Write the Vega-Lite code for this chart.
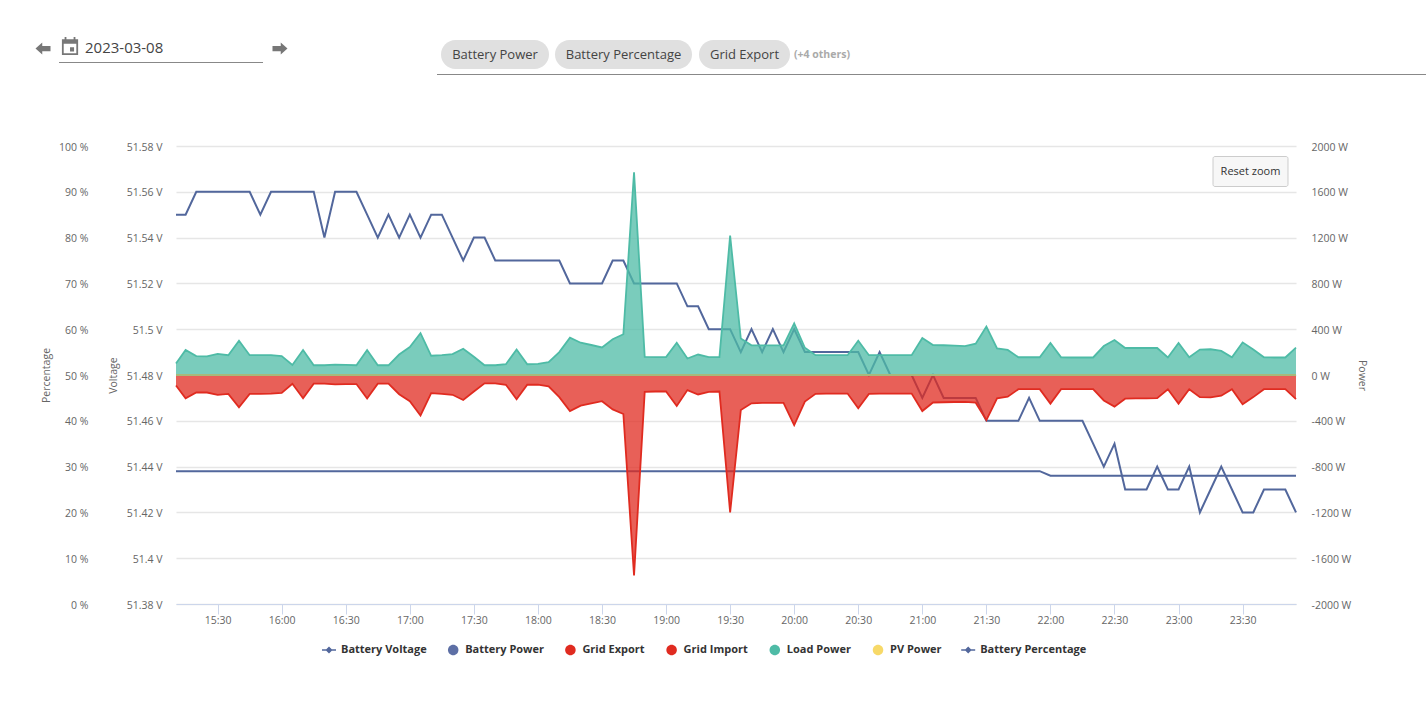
{
  "$schema": "https://vega.github.io/schema/vega-lite/v6.json",
  "autosize": "none",
  "padding": {"left": 176, "top": 146, "right": 130, "bottom": 99},
  "width": 1120,
  "height": 458,
  "background": "white",
  "config": {
    "view": {"stroke": null},
    "font": "Open Sans",
    "axis": {"labelFont": "Open Sans", "titleFont": "Open Sans", "labelFontSize": 10.5, "titleFontSize": 10.5, "labelColor": "#666666", "titleColor": "#666666", "titleFontWeight": "normal"}
  },
  "data": {"values": [
    {"t":"2023-03-08T15:10:30","pct":85,"volt":51.438,"load":100,"imp":-91,"exp":0,"pv":0,"bat":0},
    {"t":"2023-03-08T15:15:00","pct":85,"volt":51.438,"load":218,"imp":-203,"exp":0,"pv":0,"bat":0},
    {"t":"2023-03-08T15:20:00","pct":90,"volt":51.438,"load":165,"imp":-153,"exp":0,"pv":0,"bat":0},
    {"t":"2023-03-08T15:25:00","pct":90,"volt":51.438,"load":162,"imp":-153,"exp":0,"pv":0,"bat":0},
    {"t":"2023-03-08T15:30:00","pct":90,"volt":51.438,"load":185,"imp":-173,"exp":0,"pv":0,"bat":0},
    {"t":"2023-03-08T15:35:00","pct":90,"volt":51.438,"load":173,"imp":-165,"exp":0,"pv":0,"bat":0},
    {"t":"2023-03-08T15:40:00","pct":90,"volt":51.438,"load":300,"imp":-282,"exp":0,"pv":0,"bat":0},
    {"t":"2023-03-08T15:45:00","pct":90,"volt":51.438,"load":173,"imp":-165,"exp":0,"pv":0,"bat":0},
    {"t":"2023-03-08T15:50:00","pct":85,"volt":51.438,"load":173,"imp":-165,"exp":0,"pv":0,"bat":0},
    {"t":"2023-03-08T15:55:00","pct":90,"volt":51.438,"load":173,"imp":-162,"exp":0,"pv":0,"bat":0},
    {"t":"2023-03-08T16:00:00","pct":90,"volt":51.438,"load":165,"imp":-156,"exp":0,"pv":0,"bat":0},
    {"t":"2023-03-08T16:05:00","pct":90,"volt":51.438,"load":88,"imp":-76,"exp":0,"pv":0,"bat":0},
    {"t":"2023-03-08T16:10:00","pct":90,"volt":51.438,"load":218,"imp":-203,"exp":0,"pv":0,"bat":0},
    {"t":"2023-03-08T16:15:00","pct":90,"volt":51.438,"load":85,"imp":-76,"exp":0,"pv":0,"bat":0},
    {"t":"2023-03-08T16:20:00","pct":80,"volt":51.438,"load":85,"imp":-76,"exp":0,"pv":0,"bat":0},
    {"t":"2023-03-08T16:25:00","pct":90,"volt":51.438,"load":91,"imp":-82,"exp":0,"pv":0,"bat":0},
    {"t":"2023-03-08T16:30:00","pct":90,"volt":51.438,"load":88,"imp":-79,"exp":0,"pv":0,"bat":0},
    {"t":"2023-03-08T16:35:00","pct":90,"volt":51.438,"load":85,"imp":-79,"exp":0,"pv":0,"bat":0},
    {"t":"2023-03-08T16:40:00","pct":85,"volt":51.438,"load":218,"imp":-206,"exp":0,"pv":0,"bat":0},
    {"t":"2023-03-08T16:45:00","pct":80,"volt":51.438,"load":85,"imp":-76,"exp":0,"pv":0,"bat":0},
    {"t":"2023-03-08T16:50:00","pct":85,"volt":51.438,"load":85,"imp":-76,"exp":0,"pv":0,"bat":0},
    {"t":"2023-03-08T16:55:00","pct":80,"volt":51.438,"load":179,"imp":-168,"exp":0,"pv":0,"bat":0},
    {"t":"2023-03-08T17:00:00","pct":85,"volt":51.438,"load":244,"imp":-229,"exp":0,"pv":0,"bat":0},
    {"t":"2023-03-08T17:05:00","pct":80,"volt":51.438,"load":365,"imp":-353,"exp":0,"pv":0,"bat":0},
    {"t":"2023-03-08T17:10:00","pct":85,"volt":51.438,"load":168,"imp":-159,"exp":0,"pv":0,"bat":0},
    {"t":"2023-03-08T17:15:00","pct":85,"volt":51.438,"load":173,"imp":-165,"exp":0,"pv":0,"bat":0},
    {"t":"2023-03-08T17:20:00","pct":80,"volt":51.438,"load":182,"imp":-173,"exp":0,"pv":0,"bat":0},
    {"t":"2023-03-08T17:25:00","pct":75,"volt":51.438,"load":229,"imp":-218,"exp":0,"pv":0,"bat":0},
    {"t":"2023-03-08T17:30:00","pct":80,"volt":51.438,"load":159,"imp":-144,"exp":0,"pv":0,"bat":0},
    {"t":"2023-03-08T17:35:00","pct":80,"volt":51.438,"load":85,"imp":-73,"exp":0,"pv":0,"bat":0},
    {"t":"2023-03-08T17:40:00","pct":75,"volt":51.438,"load":85,"imp":-73,"exp":0,"pv":0,"bat":0},
    {"t":"2023-03-08T17:45:00","pct":75,"volt":51.438,"load":94,"imp":-85,"exp":0,"pv":0,"bat":0},
    {"t":"2023-03-08T17:50:00","pct":75,"volt":51.438,"load":223,"imp":-212,"exp":0,"pv":0,"bat":0},
    {"t":"2023-03-08T17:55:00","pct":75,"volt":51.438,"load":94,"imp":-85,"exp":0,"pv":0,"bat":0},
    {"t":"2023-03-08T18:00:00","pct":75,"volt":51.438,"load":97,"imp":-85,"exp":0,"pv":0,"bat":0},
    {"t":"2023-03-08T18:05:00","pct":75,"volt":51.438,"load":112,"imp":-100,"exp":0,"pv":0,"bat":0},
    {"t":"2023-03-08T18:10:00","pct":75,"volt":51.438,"load":200,"imp":-194,"exp":0,"pv":0,"bat":0},
    {"t":"2023-03-08T18:15:00","pct":70,"volt":51.438,"load":326,"imp":-315,"exp":0,"pv":0,"bat":0},
    {"t":"2023-03-08T18:20:00","pct":70,"volt":51.438,"load":282,"imp":-268,"exp":0,"pv":0,"bat":0},
    {"t":"2023-03-08T18:25:00","pct":70,"volt":51.438,"load":262,"imp":-247,"exp":0,"pv":0,"bat":0},
    {"t":"2023-03-08T18:30:00","pct":70,"volt":51.438,"load":241,"imp":-229,"exp":0,"pv":0,"bat":0},
    {"t":"2023-03-08T18:35:00","pct":75,"volt":51.438,"load":312,"imp":-300,"exp":0,"pv":0,"bat":0},
    {"t":"2023-03-08T18:40:00","pct":75,"volt":51.438,"load":356,"imp":-341,"exp":0,"pv":0,"bat":0},
    {"t":"2023-03-08T18:45:00","pct":70,"volt":51.438,"load":1770,"imp":-1750,"exp":0,"pv":0,"bat":0},
    {"t":"2023-03-08T18:50:00","pct":70,"volt":51.438,"load":159,"imp":-147,"exp":0,"pv":0,"bat":0},
    {"t":"2023-03-08T18:55:00","pct":70,"volt":51.438,"load":156,"imp":-144,"exp":0,"pv":0,"bat":0},
    {"t":"2023-03-08T19:00:00","pct":70,"volt":51.438,"load":156,"imp":-144,"exp":0,"pv":0,"bat":0},
    {"t":"2023-03-08T19:05:00","pct":70,"volt":51.438,"load":282,"imp":-270,"exp":0,"pv":0,"bat":0},
    {"t":"2023-03-08T19:10:00","pct":65,"volt":51.438,"load":144,"imp":-132,"exp":0,"pv":0,"bat":0},
    {"t":"2023-03-08T19:15:00","pct":65,"volt":51.438,"load":179,"imp":-170,"exp":0,"pv":0,"bat":0},
    {"t":"2023-03-08T19:20:00","pct":60,"volt":51.438,"load":156,"imp":-147,"exp":0,"pv":0,"bat":0},
    {"t":"2023-03-08T19:25:00","pct":60,"volt":51.438,"load":156,"imp":-144,"exp":0,"pv":0,"bat":0},
    {"t":"2023-03-08T19:30:00","pct":60,"volt":51.438,"load":1217,"imp":-1200,"exp":0,"pv":0,"bat":0},
    {"t":"2023-03-08T19:35:00","pct":55,"volt":51.438,"load":318,"imp":-306,"exp":0,"pv":0,"bat":0},
    {"t":"2023-03-08T19:40:00","pct":60,"volt":51.438,"load":259,"imp":-247,"exp":0,"pv":0,"bat":0},
    {"t":"2023-03-08T19:45:00","pct":55,"volt":51.438,"load":259,"imp":-244,"exp":0,"pv":0,"bat":0},
    {"t":"2023-03-08T19:50:00","pct":60,"volt":51.438,"load":259,"imp":-244,"exp":0,"pv":0,"bat":0},
    {"t":"2023-03-08T19:55:00","pct":55,"volt":51.438,"load":259,"imp":-244,"exp":0,"pv":0,"bat":0},
    {"t":"2023-03-08T20:00:00","pct":60,"volt":51.438,"load":450,"imp":-438,"exp":0,"pv":0,"bat":0},
    {"t":"2023-03-08T20:05:00","pct":55,"volt":51.438,"load":238,"imp":-232,"exp":0,"pv":0,"bat":0},
    {"t":"2023-03-08T20:10:00","pct":55,"volt":51.438,"load":173,"imp":-165,"exp":0,"pv":0,"bat":0},
    {"t":"2023-03-08T20:15:00","pct":55,"volt":51.438,"load":173,"imp":-162,"exp":0,"pv":0,"bat":0},
    {"t":"2023-03-08T20:20:00","pct":55,"volt":51.438,"load":173,"imp":-162,"exp":0,"pv":0,"bat":0},
    {"t":"2023-03-08T20:25:00","pct":55,"volt":51.438,"load":173,"imp":-162,"exp":0,"pv":0,"bat":0},
    {"t":"2023-03-08T20:30:00","pct":55,"volt":51.438,"load":300,"imp":-291,"exp":0,"pv":0,"bat":0},
    {"t":"2023-03-08T20:35:00","pct":50,"volt":51.438,"load":173,"imp":-165,"exp":0,"pv":0,"bat":0},
    {"t":"2023-03-08T20:40:00","pct":55,"volt":51.438,"load":173,"imp":-162,"exp":0,"pv":0,"bat":0},
    {"t":"2023-03-08T20:45:00","pct":50,"volt":51.438,"load":173,"imp":-162,"exp":0,"pv":0,"bat":0},
    {"t":"2023-03-08T20:50:00","pct":50,"volt":51.438,"load":173,"imp":-162,"exp":0,"pv":0,"bat":0},
    {"t":"2023-03-08T20:55:00","pct":50,"volt":51.438,"load":173,"imp":-162,"exp":0,"pv":0,"bat":0},
    {"t":"2023-03-08T21:00:00","pct":45,"volt":51.438,"load":323,"imp":-315,"exp":0,"pv":0,"bat":0},
    {"t":"2023-03-08T21:05:00","pct":50,"volt":51.438,"load":262,"imp":-240,"exp":0,"pv":0,"bat":0},
    {"t":"2023-03-08T21:10:00","pct":45,"volt":51.438,"load":260,"imp":-238,"exp":0,"pv":0,"bat":0},
    {"t":"2023-03-08T21:15:00","pct":45,"volt":51.438,"load":256,"imp":-236,"exp":0,"pv":0,"bat":0},
    {"t":"2023-03-08T21:20:00","pct":45,"volt":51.438,"load":253,"imp":-235,"exp":0,"pv":0,"bat":0},
    {"t":"2023-03-08T21:25:00","pct":45,"volt":51.438,"load":274,"imp":-242,"exp":0,"pv":0,"bat":0},
    {"t":"2023-03-08T21:30:00","pct":40,"volt":51.438,"load":423,"imp":-395,"exp":0,"pv":0,"bat":0},
    {"t":"2023-03-08T21:35:00","pct":40,"volt":51.438,"load":233,"imp":-204,"exp":0,"pv":0,"bat":0},
    {"t":"2023-03-08T21:40:00","pct":40,"volt":51.438,"load":219,"imp":-190,"exp":0,"pv":0,"bat":0},
    {"t":"2023-03-08T21:45:00","pct":40,"volt":51.438,"load":155,"imp":-124,"exp":0,"pv":0,"bat":0},
    {"t":"2023-03-08T21:50:00","pct":45,"volt":51.438,"load":155,"imp":-124,"exp":0,"pv":0,"bat":0},
    {"t":"2023-03-08T21:55:00","pct":40,"volt":51.438,"load":155,"imp":-124,"exp":0,"pv":0,"bat":0},
    {"t":"2023-03-08T22:00:00","pct":40,"volt":51.436,"load":279,"imp":-250,"exp":0,"pv":0,"bat":0},
    {"t":"2023-03-08T22:05:00","pct":40,"volt":51.436,"load":155,"imp":-124,"exp":0,"pv":0,"bat":0},
    {"t":"2023-03-08T22:10:00","pct":40,"volt":51.436,"load":153,"imp":-124,"exp":0,"pv":0,"bat":0},
    {"t":"2023-03-08T22:15:00","pct":40,"volt":51.436,"load":153,"imp":-124,"exp":0,"pv":0,"bat":0},
    {"t":"2023-03-08T22:20:00","pct":35,"volt":51.436,"load":153,"imp":-124,"exp":0,"pv":0,"bat":0},
    {"t":"2023-03-08T22:25:00","pct":30,"volt":51.436,"load":253,"imp":-222,"exp":0,"pv":0,"bat":0},
    {"t":"2023-03-08T22:30:00","pct":35,"volt":51.436,"load":305,"imp":-276,"exp":0,"pv":0,"bat":0},
    {"t":"2023-03-08T22:35:00","pct":25,"volt":51.436,"load":236,"imp":-207,"exp":0,"pv":0,"bat":0},
    {"t":"2023-03-08T22:40:00","pct":25,"volt":51.436,"load":236,"imp":-205,"exp":0,"pv":0,"bat":0},
    {"t":"2023-03-08T22:45:00","pct":25,"volt":51.436,"load":236,"imp":-205,"exp":0,"pv":0,"bat":0},
    {"t":"2023-03-08T22:50:00","pct":30,"volt":51.436,"load":236,"imp":-202,"exp":0,"pv":0,"bat":0},
    {"t":"2023-03-08T22:55:00","pct":25,"volt":51.436,"load":153,"imp":-124,"exp":0,"pv":0,"bat":0},
    {"t":"2023-03-08T23:00:00","pct":25,"volt":51.436,"load":279,"imp":-250,"exp":0,"pv":0,"bat":0},
    {"t":"2023-03-08T23:05:00","pct":30,"volt":51.436,"load":155,"imp":-124,"exp":0,"pv":0,"bat":0},
    {"t":"2023-03-08T23:10:00","pct":20,"volt":51.436,"load":222,"imp":-193,"exp":0,"pv":0,"bat":0},
    {"t":"2023-03-08T23:15:00","pct":25,"volt":51.436,"load":225,"imp":-196,"exp":0,"pv":0,"bat":0},
    {"t":"2023-03-08T23:20:00","pct":30,"volt":51.436,"load":210,"imp":-181,"exp":0,"pv":0,"bat":0},
    {"t":"2023-03-08T23:25:00","pct":25,"volt":51.436,"load":155,"imp":-124,"exp":0,"pv":0,"bat":0},
    {"t":"2023-03-08T23:30:00","pct":20,"volt":51.436,"load":285,"imp":-256,"exp":0,"pv":0,"bat":0},
    {"t":"2023-03-08T23:35:00","pct":20,"volt":51.436,"load":222,"imp":-193,"exp":0,"pv":0,"bat":0},
    {"t":"2023-03-08T23:40:00","pct":25,"volt":51.436,"load":155,"imp":-124,"exp":0,"pv":0,"bat":0},
    {"t":"2023-03-08T23:45:00","pct":25,"volt":51.436,"load":153,"imp":-124,"exp":0,"pv":0,"bat":0},
    {"t":"2023-03-08T23:50:00","pct":25,"volt":51.436,"load":153,"imp":-124,"exp":0,"pv":0,"bat":0},
    {"t":"2023-03-08T23:55:00","pct":20,"volt":51.436,"load":239,"imp":-210,"exp":0,"pv":0,"bat":0}
  ]},
  "layer": [
    {
      "mark": {"type": "line", "color": "#52679c", "strokeWidth": 2},
      "encoding": {
        "x": {"field": "t", "type": "temporal", "title": null, "scale": {"domain": ["2023-03-08T15:10:30", "2023-03-08T23:55:00"]},
          "axis": {"format": "%H:%M", "values": [
            {"year":2023,"month":3,"date":8,"hours":15,"minutes":30},{"year":2023,"month":3,"date":8,"hours":16,"minutes":0},{"year":2023,"month":3,"date":8,"hours":16,"minutes":30},{"year":2023,"month":3,"date":8,"hours":17,"minutes":0},{"year":2023,"month":3,"date":8,"hours":17,"minutes":30},{"year":2023,"month":3,"date":8,"hours":18,"minutes":0},{"year":2023,"month":3,"date":8,"hours":18,"minutes":30},{"year":2023,"month":3,"date":8,"hours":19,"minutes":0},{"year":2023,"month":3,"date":8,"hours":19,"minutes":30},{"year":2023,"month":3,"date":8,"hours":20,"minutes":0},{"year":2023,"month":3,"date":8,"hours":20,"minutes":30},{"year":2023,"month":3,"date":8,"hours":21,"minutes":0},{"year":2023,"month":3,"date":8,"hours":21,"minutes":30},{"year":2023,"month":3,"date":8,"hours":22,"minutes":0},{"year":2023,"month":3,"date":8,"hours":22,"minutes":30},{"year":2023,"month":3,"date":8,"hours":23,"minutes":0},{"year":2023,"month":3,"date":8,"hours":23,"minutes":30}
          ], "grid": false, "domainColor": "#ccd6eb", "domainWidth": 1, "tickColor": "#ccd6eb", "tickSize": 10, "labelPadding": 1, "labelOverlap": false, "labelFlush": false}},
        "y": {"field": "pct", "type": "quantitative", "title": "Percentage", "scale": {"domain": [0, 100]},
          "axis": {"orient": "left", "offset": 74, "values": [0,10,20,30,40,50,60,70,80,90,100], "labelExpr": "datum.value + ' %'", "grid": false, "domain": false, "ticks": false, "labelPadding": 14, "labelOffset": 1, "titleAngle": 270, "titleX": -56, "titleY": 229, "titleAlign": "center", "titleBaseline": "middle"}}
      }
    },
    {
      "mark": {"type": "line", "color": "#52679c", "strokeWidth": 2},
      "encoding": {
        "x": {"field": "t", "type": "temporal"},
        "y": {"field": "volt", "type": "quantitative", "title": "Voltage", "scale": {"domain": [51.38, 51.58], "zero": false},
          "axis": {"orient": "left", "offset": 0, "values": [51.38,51.4,51.42,51.44,51.46,51.48,51.5,51.52,51.54,51.56,51.58], "labelExpr": "datum.value + ' V'", "grid": false, "domain": false, "ticks": false, "labelPadding": 14, "labelOffset": 1, "titleAngle": 270, "titleX": -63, "titleY": 229, "titleAlign": "center", "titleBaseline": "middle"}}
      }
    },
    {
      "mark": {"type": "line", "color": "#52679c", "strokeWidth": 2},
      "encoding": {
        "x": {"field": "t", "type": "temporal"},
        "y": {"field": "bat", "type": "quantitative", "title": "Power", "scale": {"domain": [-2000, 2000]},
          "axis": {"orient": "right", "values": [-2000,-1600,-1200,-800,-400,0,400,800,1200,1600,2000], "labelExpr": "datum.value + ' W'", "grid": true, "gridColor": "#e6e6e6", "gridWidth": 1.5, "domain": false, "ticks": false, "labelPadding": 15, "labelOffset": 1, "titleAngle": 90, "titleX": 65, "titleY": 229, "titleAlign": "center", "titleBaseline": "middle"}}
      }
    },
    {
      "mark": {"type": "area", "color": "#4ebba6", "opacity": 0.75, "line": {"color": "#4ebba6", "strokeWidth": 1.8, "opacity": 1}},
      "encoding": {
        "x": {"field": "t", "type": "temporal"},
        "y": {"field": "load", "type": "quantitative", "axis": null, "scale": {"domain": [-2000, 2000]}}}
    },
    {
      "mark": {"type": "area", "color": "#e02b20", "opacity": 0.75, "line": {"color": "#e02b20", "strokeWidth": 1.8, "opacity": 1}},
      "encoding": {
        "x": {"field": "t", "type": "temporal"},
        "y": {"field": "imp", "type": "quantitative", "axis": null, "scale": {"domain": [-2000, 2000]}}}
    },
    {
      "mark": {"type": "line", "color": "#e02b20", "strokeWidth": 2, "opacity": 0.75},
      "encoding": {
        "x": {"field": "t", "type": "temporal"},
        "y": {"field": "exp", "type": "quantitative", "axis": null, "scale": {"domain": [-2000, 2000]}}}
    },
    {
      "mark": {"type": "line", "color": "#a6b97b", "strokeWidth": 2},
      "encoding": {
        "x": {"field": "t", "type": "temporal"},
        "y": {"field": "pv", "type": "quantitative", "axis": null, "scale": {"domain": [-2000, 2000]}}}
    },
    {
      "data": {"values": [{"series": "Battery Voltage"}, {"series": "Battery Power"}, {"series": "Grid Export"}, {"series": "Grid Import"}, {"series": "Load Power"}, {"series": "PV Power"}, {"series": "Battery Percentage"}]},
      "mark": {"type": "point", "filled": true, "size": 0, "opacity": 1},
      "encoding": {
        "x": {"datum": {"year":2023,"month":3,"date":8,"hours":15,"minutes":10,"seconds":30}, "type": "temporal"},
        "y": {"datum": 146, "axis": null, "scale": {"domain": [146, 604], "reverse": true}},
        "color": {"field": "series", "type": "nominal", "title": null,
          "scale": {"domain": ["Battery Voltage", "Battery Power", "Grid Export", "Grid Import", "Load Power", "PV Power", "Battery Percentage"], "range": ["#52679c", "#5d6fa5", "#e02b20", "#e02b20", "#4ebba6", "#f7d968", "#52679c"]},
          "legend": {"orient": "none", "legendX": 146, "legendY": 496.5, "direction": "horizontal", "columns": 7, "columnPadding": 19.2, "symbolSize": 196, "symbolOpacity": 1, "symbolStrokeWidth": 0, "labelFont": "Open Sans", "labelFontSize": 11, "labelFontWeight": "bold", "labelColor": "#333333", "labelOffset": 5, "labelOpacity": 1}},
        "shape": {"field": "series", "type": "nominal", "title": null,
          "scale": {"domain": ["Battery Voltage", "Battery Power", "Grid Export", "Grid Import", "Load Power", "PV Power", "Battery Percentage"],
            "range": [
              "M-1,-0.1L1,-0.1L1,0.1L-1,0.1ZM0,-0.5L0.5,0L0,0.5L-0.5,0Z",
              "M-0.75,0A0.75,0.75 0 1,1 0.75,0A0.75,0.75 0 1,1 -0.75,0Z",
              "M-0.75,0A0.75,0.75 0 1,1 0.75,0A0.75,0.75 0 1,1 -0.75,0Z",
              "M-0.75,0A0.75,0.75 0 1,1 0.75,0A0.75,0.75 0 1,1 -0.75,0Z",
              "M-0.75,0A0.75,0.75 0 1,1 0.75,0A0.75,0.75 0 1,1 -0.75,0Z",
              "M-0.75,0A0.75,0.75 0 1,1 0.75,0A0.75,0.75 0 1,1 -0.75,0Z",
              "M-1,-0.1L1,-0.1L1,0.1L-1,0.1ZM0,-0.5L0.5,0L0,0.5L-0.5,0Z"
            ]}}
      }
    },
    {
      "data": {"values": [{"label": "Battery Power"}]},
      "mark": {"type": "rect", "fill": "#e0e0e0", "cornerRadius": 14.5},
      "encoding": {"x": {"datum": {"year":2023,"month":3,"date":8,"hours":17,"minutes":14,"seconds":36}, "type": "temporal"}, "x2": {"datum": {"year":2023,"month":3,"date":8,"hours":18,"minutes":5,"seconds":11}}, "y": {"datum": 40, "axis": null, "scale": {"domain": [146, 604], "reverse": true}}, "y2": {"datum": 69}}
    },
    {
      "data": {"values": [{"label": "Battery Percentage"}]},
      "mark": {"type": "rect", "fill": "#e0e0e0", "cornerRadius": 14.5},
      "encoding": {"x": {"datum": {"year":2023,"month":3,"date":8,"hours":18,"minutes":7,"seconds":59}, "type": "temporal"}, "x2": {"datum": {"year":2023,"month":3,"date":8,"hours":19,"minutes":12,"seconds":9}}, "y": {"datum": 40, "axis": null, "scale": {"domain": [146, 604], "reverse": true}}, "y2": {"datum": 69}}
    },
    {
      "data": {"values": [{"label": "Grid Export"}]},
      "mark": {"type": "rect", "fill": "#e0e0e0", "cornerRadius": 14.5},
      "encoding": {"x": {"datum": {"year":2023,"month":3,"date":8,"hours":19,"minutes":15,"seconds":25}, "type": "temporal"}, "x2": {"datum": {"year":2023,"month":3,"date":8,"hours":19,"minutes":58,"seconds":2}}, "y": {"datum": 40, "axis": null, "scale": {"domain": [146, 604], "reverse": true}}, "y2": {"datum": 69}}
    },
    {
      "data": {"values": [{"label": "Battery Power"}]},
      "mark": {"type": "text", "font": "Open Sans", "fontSize": 13, "color": "#444444", "align": "center", "baseline": "middle"},
      "encoding": {"text": {"field": "label"}, "x": {"datum": {"year":2023,"month":3,"date":8,"hours":17,"minutes":39,"seconds":53}, "type": "temporal"}, "y": {"datum": 54.5, "axis": null, "scale": {"domain": [146, 604], "reverse": true}}}
    },
    {
      "data": {"values": [{"label": "Battery Percentage"}]},
      "mark": {"type": "text", "font": "Open Sans", "fontSize": 13, "color": "#444444", "align": "center", "baseline": "middle"},
      "encoding": {"text": {"field": "label"}, "x": {"datum": {"year":2023,"month":3,"date":8,"hours":18,"minutes":40,"seconds":4}, "type": "temporal"}, "y": {"datum": 54.5, "axis": null, "scale": {"domain": [146, 604], "reverse": true}}}
    },
    {
      "data": {"values": [{"label": "Grid Export"}]},
      "mark": {"type": "text", "font": "Open Sans", "fontSize": 13, "color": "#444444", "align": "center", "baseline": "middle"},
      "encoding": {"text": {"field": "label"}, "x": {"datum": {"year":2023,"month":3,"date":8,"hours":19,"minutes":36,"seconds":44}, "type": "temporal"}, "y": {"datum": 54.5, "axis": null, "scale": {"domain": [146, 604], "reverse": true}}}
    },
    {
      "data": {"values": [{"label": "(+4 others)"}]},
      "mark": {"type": "text", "font": "Open Sans", "fontSize": 10.5, "fontWeight": "bold", "color": "#aaaaaa", "align": "left", "baseline": "middle"},
      "encoding": {"text": {"field": "label"}, "x": {"datum": {"year":2023,"month":3,"date":8,"hours":19,"minutes":59,"seconds":55}, "type": "temporal"}, "y": {"datum": 54.5, "axis": null, "scale": {"domain": [146, 604], "reverse": true}}}
    },
    {
      "data": {"values": [{"label": "2023-03-08"}]},
      "mark": {"type": "text", "font": "Open Sans", "fontSize": 15, "color": "#444444", "align": "left", "baseline": "middle"},
      "encoding": {"text": {"field": "label"}, "x": {"datum": {"year":2023,"month":3,"date":8,"hours":14,"minutes":27,"seconds":53}, "type": "temporal"}, "y": {"datum": 47.5, "axis": null, "scale": {"domain": [146, 604], "reverse": true}}}
    },
    {
      "data": {"values": [{"part": "date underline"}]},
      "mark": {"type": "rule", "color": "#888888", "strokeWidth": 1},
      "encoding": {"x": {"datum": {"year":2023,"month":3,"date":8,"hours":14,"minutes":15,"seconds":43}, "type": "temporal"}, "x2": {"datum": {"year":2023,"month":3,"date":8,"hours":15,"minutes":51,"seconds":15}}, "y": {"datum": 62.5, "axis": null, "scale": {"domain": [146, 604], "reverse": true}}}
    },
    {
      "data": {"values": [{"part": "selector underline"}]},
      "mark": {"type": "rule", "color": "#888888", "strokeWidth": 1},
      "encoding": {"x": {"datum": {"year":2023,"month":3,"date":8,"hours":17,"minutes":12,"seconds":44}, "type": "temporal"}, "x2": {"datum": {"year":2023,"month":3,"date":9,"hours":0,"minutes":55,"seconds":53}}, "y": {"datum": 74.5, "axis": null, "scale": {"domain": [146, 604], "reverse": true}}}
    },
    {
      "data": {"values": [{"part": "previous day"}]},
      "mark": {"type": "point", "filled": true, "opacity": 1, "color": "#777777", "size": 225, "shape": "M-1,0L-0.1,-0.8L-0.1,-0.35L1,-0.35L1,0.35L-0.1,0.35L-0.1,0.8Z"},
      "encoding": {"x": {"datum": {"year":2023,"month":3,"date":8,"hours":14,"minutes":8,"seconds":13}, "type": "temporal"}, "y": {"datum": 48.5, "axis": null, "scale": {"domain": [146, 604], "reverse": true}}}
    },
    {
      "data": {"values": [{"part": "next day"}]},
      "mark": {"type": "point", "filled": true, "opacity": 1, "color": "#777777", "size": 225, "shape": "M1,0L0.1,0.8L0.1,0.35L-1,0.35L-1,-0.35L0.1,-0.35L0.1,-0.8Z"},
      "encoding": {"x": {"datum": {"year":2023,"month":3,"date":8,"hours":15,"minutes":59,"seconds":12}, "type": "temporal"}, "y": {"datum": 48.5, "axis": null, "scale": {"domain": [146, 604], "reverse": true}}}
    },
    {
      "data": {"values": [{"part": "calendar"}]},
      "mark": {"type": "point", "filled": true, "opacity": 1, "color": "#777777", "size": 324, "shape": "M-0.9,-0.75L-0.6,-0.75L-0.6,-1L-0.4,-1L-0.4,-0.75L0.4,-0.75L0.4,-1L0.6,-1L0.6,-0.75L0.9,-0.75L0.9,1L-0.9,1ZM-0.7,-0.25L-0.7,0.8L0.7,0.8L0.7,-0.25ZM0,0.15L0,0.6L0.45,0.6L0.45,0.15Z"},
      "encoding": {"x": {"datum": {"year":2023,"month":3,"date":8,"hours":14,"minutes":20,"seconds":52}, "type": "temporal"}, "y": {"datum": 46, "axis": null, "scale": {"domain": [146, 604], "reverse": true}}}
    },
    {
      "data": {"values": [{"label": "Reset zoom"}]},
      "mark": {"type": "rect", "fill": "#f7f7f7", "stroke": "#cccccc", "strokeWidth": 1, "cornerRadius": 2},
      "encoding": {"x": {"datum": {"year":2023,"month":3,"date":8,"hours":23,"minutes":16,"seconds":8}, "type": "temporal"}, "x2": {"datum": {"year":2023,"month":3,"date":8,"hours":23,"minutes":51,"seconds":15}}, "y": {"datum": 156.5, "axis": null, "scale": {"domain": [146, 604], "reverse": true}}, "y2": {"datum": 186.5}}
    },
    {
      "data": {"values": [{"label": "Reset zoom"}]},
      "mark": {"type": "text", "font": "Open Sans", "fontSize": 11, "color": "#333333", "align": "center", "baseline": "middle"},
      "encoding": {"text": {"field": "label"}, "x": {"datum": {"year":2023,"month":3,"date":8,"hours":23,"minutes":33,"seconds":41}, "type": "temporal"}, "y": {"datum": 172, "axis": null, "scale": {"domain": [146, 604], "reverse": true}}}
    }
  ],
  "resolve": {"scale": {"y": "independent"}, "axis": {"y": "independent"}}
}
